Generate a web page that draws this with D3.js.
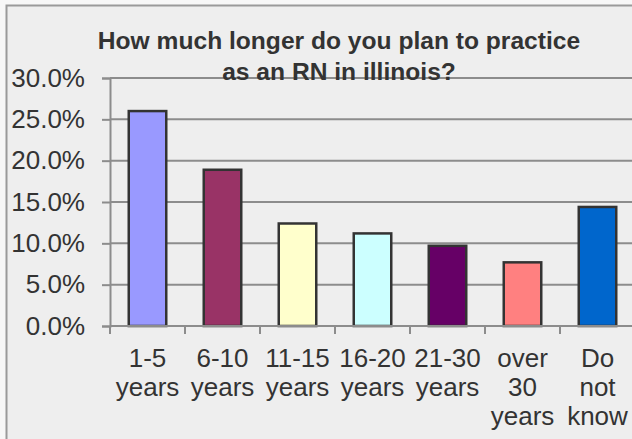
<!DOCTYPE html>
<html>
<head>
<meta charset="utf-8">
<script src="https://cdn.jsdelivr.net/npm/d3@7"></script>
<style>
  html, body { margin: 0; padding: 0; background: #f7f7f7; }
  svg { display: block; }
  text { font-family: "Liberation Sans", Arial, sans-serif; fill: #333333; }
</style>
</head>
<body>
<svg id="chart" width="632" height="439"></svg>
<script>
// Survey answers: remaining years of RN practice in Illinois
const categories = [
  ["1-5", "years"],
  ["6-10", "years"],
  ["11-15", "years"],
  ["16-20", "years"],
  ["21-30", "years"],
  ["over", "30", "years"],
  ["Do", "not", "know"]
];
const shares = [0.260, 0.189, 0.124, 0.112, 0.097, 0.077, 0.144];
const barColors = ["#9999FF", "#993366", "#FFFFCC", "#CCFFFF", "#660066", "#FF8080", "#0066CC"];
const yTicks = [0, 0.05, 0.10, 0.15, 0.20, 0.25, 0.30];
const titleLines = ["How much longer do you plan to practice", "as an RN in illinois?"];

const svg = d3.select("#chart");
const keys = categories.map((c, i) => i);

// chart frame (runs off the right and bottom of the view)
svg.append("rect")
  .attr("x", 6.5).attr("y", 5.5)
  .attr("width", 700).attr("height", 500)
  .attr("fill", "#eeeeee")
  .attr("stroke", "#9a9a9a")
  .attr("stroke-width", 2);

const plot = { left: 110, right: 635, top: 78, bottom: 326 };

const y = d3.scaleLinear().domain([0, 0.30]).range([plot.bottom, plot.top]);
const x = d3.scaleBand().domain(keys).range([plot.left, plot.right])
  .paddingInner(0.5).paddingOuter(0.25);
const xSlots = d3.scaleBand().domain(keys).range([plot.left, plot.right]).padding(0);

// horizontal gridlines
svg.append("g")
  .selectAll("line")
  .data(yTicks.filter(d => d > 0))
  .join("line")
  .attr("x1", plot.left).attr("x2", 632)
  .attr("y1", d => y(d)).attr("y2", d => y(d))
  .attr("stroke", "#8c8c8c")
  .attr("stroke-width", 2);

// y axis
const yAxis = d3.axisLeft(y)
  .tickValues(yTicks)
  .tickFormat(d3.format(".1%"))
  .tickSize(8)
  .tickPadding(17);
const gy = svg.append("g").attr("transform", `translate(${plot.left},0)`).call(yAxis);
gy.select(".domain").attr("stroke", "#8c8c8c").attr("stroke-width", 2);
gy.selectAll(".tick line").attr("stroke", "#8c8c8c").attr("stroke-width", 2);
gy.selectAll(".tick text")
  .attr("font-size", 26)
  .attr("font-family", "Liberation Sans, Arial, sans-serif")
  .attr("fill", "#333333");

// bars
svg.append("g")
  .selectAll("rect")
  .data(shares)
  .join("rect")
  .attr("x", (d, i) => x(i))
  .attr("y", d => y(d))
  .attr("width", x.bandwidth())
  .attr("height", d => y(0) - y(d))
  .attr("fill", (d, i) => barColors[i])
  .attr("stroke", "#333333")
  .attr("stroke-width", 2.5);

// x axis line and category separators
svg.append("line")
  .attr("x1", plot.left).attr("x2", 632)
  .attr("y1", y(0)).attr("y2", y(0))
  .attr("stroke", "#8c8c8c").attr("stroke-width", 2);
svg.append("g")
  .selectAll("line")
  .data(keys)
  .join("line")
  .attr("x1", d => xSlots(d)).attr("x2", d => xSlots(d))
  .attr("y1", y(0)).attr("y2", y(0) + 8)
  .attr("stroke", "#8c8c8c").attr("stroke-width", 2);

// category labels
const labels = svg.append("g")
  .selectAll("text")
  .data(categories)
  .join("text")
  .attr("text-anchor", "middle")
  .attr("font-size", 26)
  .attr("transform", (d, i) => `translate(${x(i) + x.bandwidth() / 2},366.5)`);
labels.selectAll("tspan")
  .data(d => d)
  .join("tspan")
  .attr("x", 0)
  .attr("y", (d, j) => j * 29.2)
  .text(d => d);

// title
svg.append("text")
  .attr("text-anchor", "middle")
  .attr("font-size", 24.6)
  .attr("font-weight", "bold")
  .selectAll("tspan")
  .data(titleLines)
  .join("tspan")
  .attr("x", 339)
  .attr("y", (d, j) => 48.5 + j * 31.5)
  .text(d => d);
</script>
</body>
</html>
